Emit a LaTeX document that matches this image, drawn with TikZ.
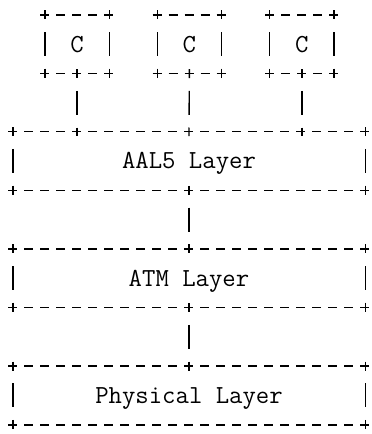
\documentclass[tikz,border=0pt]{standalone}
\usepackage{fontspec}
\usetikzlibrary{positioning}

\begin{document}
\begin{tikzpicture}[x=1pt, y=1pt,
	box/.style={minimum width=64pt, minimum height=58.4pt, inner sep=0pt, font=\ttfamily\fontsize{26}{26}\selectfont, text height=15.9pt, text depth=0pt},
	layer/.style={box, minimum width=352pt},
	hline/.style={line width=1.4pt, dash pattern=on 9pt off 7pt, shorten <=-4.5pt, shorten >=-4.5pt},
	vline/.style={line width=1.4pt, dash pattern=on 9pt off 12.7pt on 24pt off 12.7pt, shorten <=-4.5pt, shorten >=-4.5pt}]
	\useasboundingbox (0,0) rectangle (372,-434);
	\node [box] (c1) at (77,-44.2) {C};
	\node [box, right=48pt of c1] (c2) {C};
	\node [box, right=48pt of c2] (c3) {C};
	\node [layer] (aal) at (189,-161) {AAL5 Layer};
	\node [layer, below=58.4pt of aal] (atm) {ATM Layer};
	\node [layer, below=58.4pt of atm] (phy) {Physical Layer};
	\foreach \b in {c1,c2,c3,aal,atm,phy} {
		\draw [hline] (\b.north west) -- (\b.north east);
		\draw [hline] (\b.south west) -- (\b.south east);
		\draw [vline] (\b.north west) -- (\b.south west);
		\draw [vline] (\b.north east) -- (\b.south east);
	}
	\draw [vline] (c1.south) -- (c1.south |- aal.north);
	\draw [vline] (c2.south) -- (aal.north);
	\draw [vline] (c3.south) -- (c3.south |- aal.north);
	\draw [vline] (aal.south) -- (atm.north);
	\draw [vline] (atm.south) -- (phy.north);
\end{tikzpicture}
\end{document}
